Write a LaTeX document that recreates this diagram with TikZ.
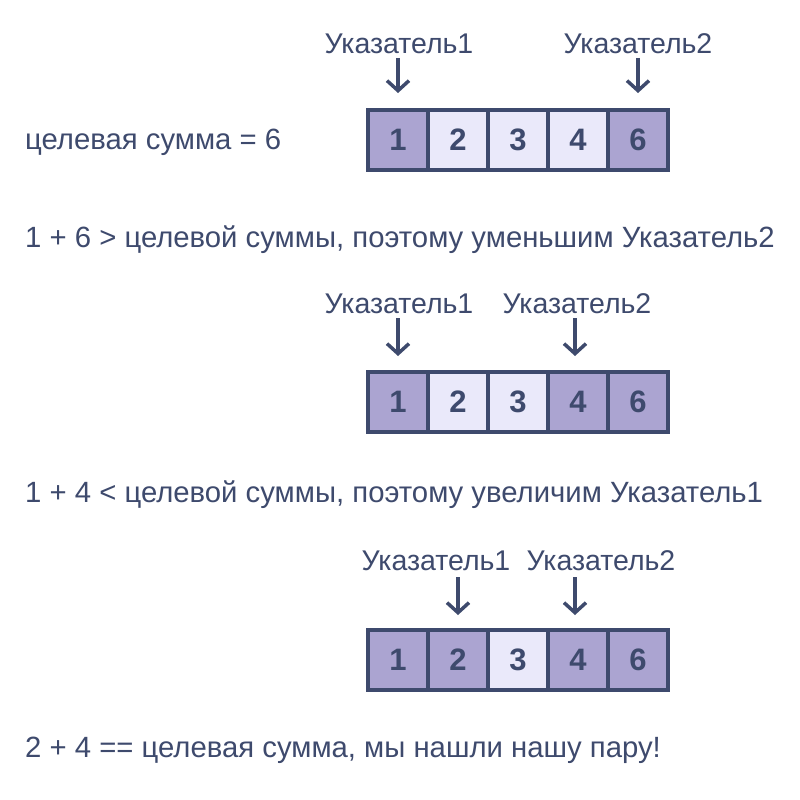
\documentclass[tikz,border=0pt]{standalone}
\usepackage{fontspec}
\setmainfont{Liberation Sans}
\usetikzlibrary{arrows.meta}
\definecolor{ink}{HTML}{3E4A6D}
\definecolor{darkcell}{HTML}{ABA4D1}
\definecolor{lightcell}{HTML}{EAE9FA}
\tikzset{
  txt/.style={anchor=base west, inner sep=0pt, text=ink, font=\fontsize{29.3}{33}\selectfont},
  lbl/.style={anchor=base, inner sep=0pt, text=ink, font=\fontsize{28.5}{33}\selectfont},
  cell/.style={draw=ink, line width=4pt, minimum width=60pt, minimum height=60pt, inner sep=0pt, text=ink, font=\bfseries\fontsize{31}{35}\selectfont},
  dk/.style={cell, fill=darkcell},
  lt/.style={cell, fill=lightcell},
  ptr/.style={draw=ink, line width=3.5pt, -{Straight Barb[length=10pt,width=22pt,line width=3.5pt]}}
}
\begin{document}
\begin{tikzpicture}[x=1pt,y=-1pt]
\useasboundingbox[fill=white] (0,0) rectangle (800,800);
% row 1
\node[txt] (t0) at (25,149) {целевая сумма = 6};
\node[dk] (a1) at (398,140) {1};
\node[lt] (a2) at (458,140) {2};
\node[lt] (a3) at (518,140) {3};
\node[lt] (a4) at (578,140) {4};
\node[dk] (a5) at (638,140) {6};
\node[lbl] (p1a) at (399,53) {Указатель1};
\node[lbl] (p2a) at (638,53) {Указатель2};
\coordinate (s1a) at (398,58);
\coordinate (s2a) at (638,58);
\draw[ptr] (s1a) -- (398,93);
\draw[ptr] (s2a) -- (638,93);
\node[txt] (t1) at (25,247) {1 + 6 > целевой суммы, поэтому уменьшим Указатель2};
% row 2
\node[dk] (b1) at (398,402) {1};
\node[lt] (b2) at (458,402) {2};
\node[lt] (b3) at (518,402) {3};
\node[dk] (b4) at (578,402) {4};
\node[dk] (b5) at (638,402) {6};
\node[lbl] (p1b) at (399,313) {Указатель1};
\node[lbl] (p2b) at (577,313) {Указатель2};
\coordinate (s1b) at (398,318);
\coordinate (s2b) at (575,318);
\draw[ptr] (s1b) -- (398,356);
\draw[ptr] (s2b) -- (575,356);
\node[txt] (t2) at (25,502) {1 + 4 < целевой суммы, поэтому увеличим Указатель1};
% row 3
\node[dk] (c1) at (398,660) {1};
\node[dk] (c2) at (458,660) {2};
\node[lt] (c3) at (518,660) {3};
\node[dk] (c4) at (578,660) {4};
\node[dk] (c5) at (638,660) {6};
\node[lbl] (p1c) at (436,570) {Указатель1};
\node[lbl] (p2c) at (601,570) {Указатель2};
\coordinate (s1c) at (458,577);
\coordinate (s2c) at (575,577);
\draw[ptr] (s1c) -- (458,615);
\draw[ptr] (s2c) -- (575,615);
\node[txt] (t3) at (25,757) {2 + 4 == целевая сумма, мы нашли нашу пару!};
\end{tikzpicture}
\end{document}
